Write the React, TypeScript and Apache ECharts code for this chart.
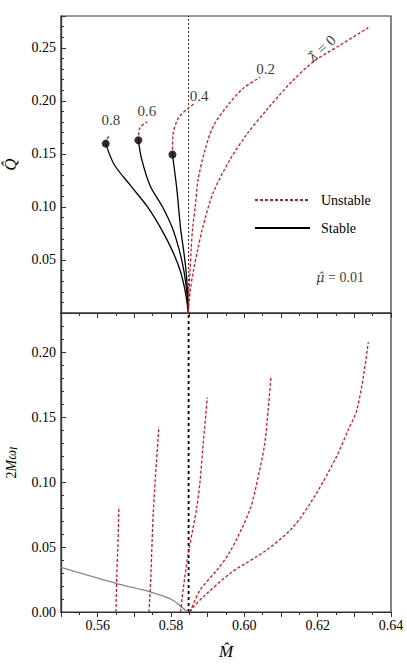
import React, { useEffect, useRef } from 'react';
import * as echarts from 'echarts';

const font = "'Liberation Serif', 'Times New Roman', serif";
const hatFont = "'DejaVu Serif', serif";
const red = '#d8141c';
const frame = '#333';

// axis ranges
const mRange = [0.55, 0.64];
const qMax = 0.28;
const wMax = 0.23;
const criticalM = 0.5848;

// upper panel: Q-hat against M-hat, one curve per lambda
const q0Unstable = [[0.5847, 0.0015], [0.5852, 0.0197], [0.5862, 0.0416], [0.5873, 0.06], [0.5886, 0.08], [0.5915, 0.1134], [0.5961, 0.1447], [0.6006, 0.1681], [0.6061, 0.1915], [0.6125, 0.2166], [0.6188, 0.2369], [0.6261, 0.2525], [0.6338, 0.269]];
const q2Unstable = [[0.5847, 0.0015], [0.5849, 0.02], [0.5852, 0.04], [0.5855, 0.06], [0.5859, 0.08], [0.5866, 0.1], [0.5874, 0.1259], [0.5893, 0.154], [0.5915, 0.1759], [0.5952, 0.1946], [0.5997, 0.2119], [0.6043, 0.2222]];
const q4Stable = [[0.5847, 0.0015], [0.5845, 0.02], [0.5841, 0.04], [0.5834, 0.06], [0.5826, 0.08], [0.5816, 0.1165], [0.5804, 0.1494]];
const q4Unstable = [[0.5804, 0.1494], [0.5805, 0.1665], [0.582, 0.1837], [0.5847, 0.1931], [0.5865, 0.1975]];
const q6Stable = [[0.5847, 0.0015], [0.5843, 0.02], [0.5835, 0.04], [0.5822, 0.06], [0.5804, 0.08], [0.5777, 0.1], [0.5743, 0.12], [0.572, 0.145], [0.5711, 0.1628]];
const q6Unstable = [[0.5711, 0.1628], [0.5715, 0.1744], [0.5735, 0.1803]];
const q8Stable = [[0.5847, 0.0015], [0.5839, 0.02], [0.5825, 0.04], [0.5802, 0.06], [0.5772, 0.08], [0.5736, 0.1], [0.569, 0.12], [0.5645, 0.14], [0.5622, 0.1597]];
const q8Unstable = [[0.5622, 0.1597], [0.5625, 0.164], [0.5634, 0.1681]];
const junctions = [[0.5622, 0.1597], [0.5711, 0.1628], [0.5804, 0.1494]];
const curveLabels = [[0.5636, 0.182, '0.8'], [0.5734, 0.1906, '0.6'], [0.5877, 0.2047, '0.4'], [0.6058, 0.2297, '0.2']];
const lambdaZeroLabel = [0.6211, 0.2494];
const muLabel = [0.6261, 0.0337];

// lower panel: 2M omega_I against M-hat
const w8 = [[0.565, 0], [0.5652, 0.027], [0.5655, 0.05], [0.5658, 0.0812]];
const w6 = [[0.574, 0], [0.5745, 0.027], [0.5752, 0.0786], [0.5767, 0.1425]];
const w4 = [[0.5826, 0], [0.5834, 0.0193], [0.5847, 0.045], [0.5859, 0.063], [0.587, 0.08], [0.5879, 0.1], [0.5888, 0.1302], [0.5899, 0.165]];
const w2 = [[0.5852, 0], [0.5879, 0.0168], [0.5925, 0.0322], [0.5961, 0.0464], [0.6015, 0.0786], [0.6038, 0.1044], [0.6056, 0.1302], [0.6065, 0.156], [0.6073, 0.1817]];
const w0 = [[0.5852, 0], [0.5861, 0.0039], [0.5888, 0.0116], [0.5961, 0.0297], [0.6061, 0.0477], [0.6134, 0.0657], [0.6197, 0.0915], [0.6252, 0.1199], [0.6284, 0.1405], [0.6306, 0.1547], [0.6325, 0.1817], [0.6338, 0.2075]];
const grayBranch = [[0.55, 0.0343], [0.5652, 0.0219], [0.5743, 0.0155], [0.5797, 0.0103], [0.5816, 0.007], [0.5834, 0.0026], [0.5847, 0]];

const labelText = { fontFamily: font, fontSize: 14, color: '#000' };
const onStep = (v: number, step: number) => Math.abs(v / step - Math.round(v / step)) < 1e-6;

// major + minor axis on the bottom of each grid; top/right edges come from the grid border
function xFrame(grid: number, labels: boolean, name?: any) {
  return [[0.01, 5], [0.005, 3]].map(([step, len], k) => ({
    type: 'value', gridIndex: grid, position: 'bottom', min: mRange[0], max: mRange[1], interval: step,
    splitLine: { show: false },
    axisLine: { show: true, onZero: false, lineStyle: { color: frame, width: 1.2 } },
    axisTick: { show: true, inside: false, length: len, lineStyle: { color: frame, width: 1 } },
    axisLabel: labels && k === 0
      ? { show: true, ...labelText, margin: 6, formatter: (v: number) => (onStep(v, 0.02) ? v.toFixed(2) : '') }
      : { show: false },
    ...(labels && k === 0 && name ? name : {}),
  }));
}

function yFrame(grid: number, max: number, showZero: boolean, name: any) {
  return [[0.05, 5], [0.01, 3]].map(([step, len], k) => ({
    type: 'value', gridIndex: grid, position: 'left', min: 0, max, interval: step,
    splitLine: { show: false },
    axisLine: { show: true, onZero: false, lineStyle: { color: frame, width: 1.2 } },
    axisTick: { show: true, inside: true, length: len, lineStyle: { color: frame, width: 1 } },
    axisLabel: k === 0
      ? {
        show: true, ...labelText, margin: 5,
        formatter: (v: number) => (onStep(v, 0.05) && (showZero || v > 0) ? v.toFixed(2) : ''),
      }
      : { show: false },
    ...(k === 0 ? name : {}),
  }));
}

const curve = (data: any[], grid: number, stable: boolean) => ({
  type: 'line',
  name: stable ? 'Stable' : 'Unstable',
  xAxisIndex: grid * 2,
  yAxisIndex: grid * 2,
  data,
  symbol: 'none',
  smooth: 0.3,
  silent: true,
  z: 3,
  itemStyle: { color: stable ? '#000' : red },
  lineStyle: stable ? { color: '#000', width: 1.3 } : { color: red, width: 1.3, type: [3, 2] },
});

const App: React.FC = () => {
  const chartRef = useRef<HTMLDivElement>(null);

  useEffect(() => {
    const chart = echarts.init(chartRef.current!, null, { renderer: 'svg' });

    const gridBox = { show: true, borderColor: frame, borderWidth: 1.2, backgroundColor: 'transparent', outerBoundsMode: 'none' };
    const options = {
      animation: false,
      grid: [
        { ...gridBox, left: 61, right: 16, top: 16, height: 297 },
        { ...gridBox, left: 61, right: 16, top: 313, height: 299 },
      ],
      xAxis: [
        ...xFrame(0, false),
        ...xFrame(1, true, {
          name: 'M\u0302', nameLocation: 'middle', nameGap: 31,
          nameTextStyle: { fontFamily: font, fontSize: 17, fontStyle: 'italic', color: '#000' },
        }),
      ],
      yAxis: [
        ...yFrame(0, qMax, false, {
          name: 'Q\u0302', nameLocation: 'middle', nameRotate: 90, nameGap: 42,
          nameTextStyle: { fontFamily: font, fontSize: 17, fontStyle: 'italic', color: '#000' },
        }),
        ...yFrame(1, wMax, true, {
          name: '{a|2}{b|M\u03c9}{s|I}', nameLocation: 'middle', nameRotate: 90, nameGap: 43,
          nameTextStyle: {
            rich: {
              a: { fontFamily: font, fontSize: 14, color: '#000', lineHeight: 16, verticalAlign: 'bottom' },
              b: { fontFamily: font, fontSize: 14, fontStyle: 'italic', color: '#000', lineHeight: 16, verticalAlign: 'bottom' },
              s: { fontFamily: font, fontSize: 10, fontStyle: 'italic', color: '#000', lineHeight: 12, verticalAlign: 'bottom' },
            },
          },
        }),
      ],
      legend: {
        data: ['Unstable', 'Stable'],
        orient: 'vertical',
        left: 249,
        top: 188,
        itemWidth: 55,
        itemHeight: 14,
        itemGap: 14,
        selectedMode: false,
        itemStyle: { opacity: 0 },
        textStyle: { fontFamily: font, fontSize: 14, color: '#000', padding: [0, 0, 0, 6] },
      },
      series: [
        // critical mass lines
        {
          type: 'line', xAxisIndex: 0, yAxisIndex: 0, symbol: 'none', silent: true, z: 1,
          data: [[criticalM, 0], [criticalM, qMax]],
          lineStyle: { color: '#222', width: 1, type: [2, 2] },
        },
        {
          type: 'line', xAxisIndex: 2, yAxisIndex: 2, symbol: 'none', silent: true, z: 1,
          data: [[criticalM, 0], [criticalM, wMax]],
          lineStyle: { color: '#000', width: 1.8, type: [3, 3] },
        },
        // upper panel
        curve(q8Stable, 0, true),
        curve(q6Stable, 0, true),
        curve(q4Stable, 0, true),
        curve(q0Unstable, 0, false),
        curve(q2Unstable, 0, false),
        curve(q4Unstable, 0, false),
        curve(q6Unstable, 0, false),
        curve(q8Unstable, 0, false),
        {
          type: 'scatter', xAxisIndex: 0, yAxisIndex: 0, data: junctions, symbolSize: 8, silent: true, z: 5,
          itemStyle: { color: '#000' },
        },
        {
          type: 'scatter', xAxisIndex: 0, yAxisIndex: 0, symbolSize: 0, silent: true, z: 6,
          data: [
            ...curveLabels.map((d) => ({ value: d })),
            { value: [...lambdaZeroLabel, ''], label: { rotate: 42, formatter: '{i|\u03bb\u0302} = 0' } },
            { value: [...muLabel, ''], label: { formatter: '{i|\u03bc\u0302} = 0.01', fontSize: 14 } },
          ],
          label: {
            show: true, position: 'inside', fontFamily: font, fontSize: 15, color: '#000',
            formatter: (p: any) => p.value[2],
            rich: { i: { fontFamily: hatFont, fontSize: 13, fontStyle: 'italic', color: '#000' } },
          },
        },
        // lower panel
        {
          type: 'line', xAxisIndex: 2, yAxisIndex: 2, data: grayBranch, symbol: 'none', smooth: 0.3, silent: true, z: 2,
          lineStyle: { color: '#888', width: 1.3 },
        },
        curve(w8, 1, false),
        curve(w6, 1, false),
        curve(w4, 1, false),
        curve(w2, 1, false),
        curve(w0, 1, false),
      ],
    };

    chart.setOption(options as any);

    return () => {
      chart.dispose();
    };
  }, []);

  return (
    <div
      ref={chartRef}
      style={{ position: 'absolute', left: 0, top: 0, width: 407, height: 667, background: '#fff' }}
    />
  );
};

export default App;
